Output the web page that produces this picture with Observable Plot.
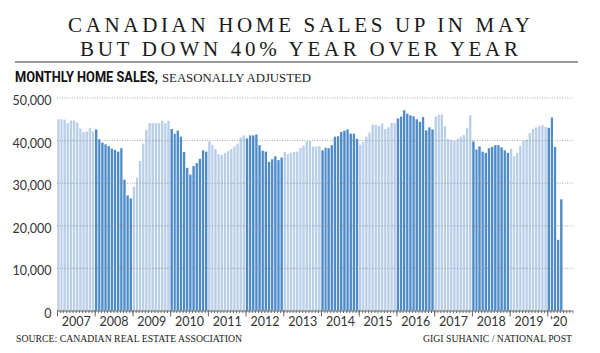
<!DOCTYPE html>
<html>
<head>
<meta charset="utf-8">
<script src="https://cdn.jsdelivr.net/npm/d3@7"></script>
<script src="https://cdn.jsdelivr.net/npm/@observablehq/plot@0.6"></script>
<style>
  html, body { margin: 0; padding: 0; background: #fff; }
  body { width: 600px; height: 353px; overflow: hidden; }
  svg { display: block; }
  #chart { height: 245px; }
</style>
</head>
<body>
<svg id="header" width="600" height="88">
  <text x="299" y="32" text-anchor="middle" font-family="Liberation Serif, serif" font-size="21" textLength="462" lengthAdjust="spacing" fill="#1a1a1a">CANADIAN HOME SALES UP IN MAY</text>
  <text x="299" y="55.5" text-anchor="middle" font-family="Liberation Serif, serif" font-size="21" textLength="438" lengthAdjust="spacing" fill="#1a1a1a">BUT DOWN 40% YEAR OVER YEAR</text>
  <rect x="15" y="61" width="563" height="2" fill="#9a9a9a"></rect>
  <text x="15" y="82" font-family="Roboto, sans-serif" font-weight="bold" font-size="14" textLength="143" lengthAdjust="spacingAndGlyphs" fill="#111">MONTHLY HOME SALES,</text>
  <text x="162" y="82" font-family="Liberation Serif, serif" font-size="11.5" textLength="149" lengthAdjust="spacingAndGlyphs" fill="#222">SEASONALLY ADJUSTED</text>
</svg>
<div id="chart"></div>
<svg id="footer" width="600" height="20">
  <text x="16" y="9" font-family="Liberation Serif, serif" font-size="10.5" textLength="226" lengthAdjust="spacingAndGlyphs" fill="#1a1a1a">SOURCE: CANADIAN REAL ESTATE ASSOCIATION</text>
  <text x="572" y="9" text-anchor="end" font-family="Liberation Serif, serif" font-size="10.5" textLength="149" lengthAdjust="spacingAndGlyphs" fill="#1a1a1a">GIGI SUHANIC / NATIONAL POST</text>
</svg>
<script>
// Monthly home sales, seasonally adjusted (one array per year)
const s2007 = [44900, 44900, 44800, 44000, 44600, 44600, 44100, 42700, 41900, 42000, 42900, 42000];
const s2008 = [42500, 40200, 39400, 39000, 38600, 38000, 37700, 37300, 38100, 30700, 27000, 26300];
const s2009 = [29000, 31200, 35100, 39200, 42400, 44000, 44000, 44000, 44000, 44500, 44000, 44500];
const s2010 = [42600, 41500, 42200, 40800, 37200, 33500, 31900, 33900, 34600, 35600, 37600, 37300];
const s2011 = [39700, 38900, 37900, 36700, 36500, 37000, 37400, 37900, 38500, 39200, 40600, 41100];
const s2012 = [40400, 41100, 41100, 41300, 38800, 37500, 37300, 34900, 35500, 36200, 35300, 35900];
const s2013 = [37200, 36700, 37000, 37200, 37300, 38200, 38700, 39700, 39800, 38500, 38500, 38600];
const s2014 = [37600, 38200, 38100, 38800, 40800, 40900, 41900, 42200, 42500, 41500, 41500, 40300];
const s2015 = [38900, 39600, 40800, 41800, 43600, 43600, 43300, 43900, 42600, 43000, 44100, 44000];
const s2016 = [45100, 45500, 47000, 46200, 45800, 45600, 44900, 44300, 45400, 42300, 43000, 42500];
const s2017 = [45500, 46000, 46000, 43300, 40300, 40000, 39800, 40300, 40800, 41200, 42800, 45800];
const s2018 = [39700, 37800, 38500, 37300, 37000, 38100, 38400, 38800, 38800, 38300, 37600, 37000];
const s2019 = [38000, 36200, 37000, 38700, 39800, 40100, 41600, 42600, 43000, 43300, 43500, 43100];
const s2020 = [42900, 45300, 38400, 16600, 26100];

const years = [2007, 2008, 2009, 2010, 2011, 2012, 2013, 2014, 2015, 2016, 2017, 2018, 2019, 2020];
const series = [s2007, s2008, s2009, s2010, s2011, s2012, s2013, s2014, s2015, s2016, s2017, s2018, s2019, s2020];
const yearLabels = ["2007", "2008", "2009", "2010", "2011", "2012", "2013", "2014", "2015", "2016", "2017", "2018", "2019", "'20"];
const yTicks = [0, 10000, 20000, 30000, 40000, 50000];

const LIGHT = "#b9cfe9";
const DARK = "#4e8bc8";

const data = [];
years.forEach((yr, i) => {
  series[i].forEach((v, m) => {
    data.push({
      start: new Date(Date.UTC(yr, m, 1)),
      end: new Date(Date.UTC(yr, m + 1, 1)),
      value: v,
      color: i % 2 === 1 ? DARK : LIGHT
    });
  });
});

const xStart = new Date(Date.UTC(2007, 0, 1));
const xEnd = new Date(Date.UTC(2020, 8, 1));
const monthTicks = d3.utcMonth.range(xStart, new Date(Date.UTC(2020, 8, 2)));
const yearTicks = d3.utcYear.range(xStart, xEnd);
const labelData = years.map((yr, i) => {
  const a = new Date(Date.UTC(yr, 0, 1));
  const b = yr === 2020 ? new Date(Date.UTC(2020, 7, 1)) : new Date(Date.UTC(yr + 1, 0, 1));
  return {mid: new Date((+a + +b) / 2), label: yearLabels[i]};
});

const chart = Plot.plot({
  width: 600,
  height: 245,
  marginLeft: 57,
  marginRight: 27.5,
  marginTop: 9.5,
  marginBottom: 22.5,
  style: {fontFamily: "Lato, Roboto, sans-serif", fontSize: "12px", color: "#333", background: "#fff"},
  x: {type: "utc", domain: [xStart, xEnd], axis: null},
  y: {domain: [0, 50000], axis: null},
  marks: [
    Plot.rectY(data, {x1: "start", x2: "end", y: "value", fill: "color", insetLeft: 0.3, insetRight: 0.5}),
    Plot.ruleY(yTicks.filter(d => d > 0), {stroke: "#8a8a8a", strokeDasharray: "1 1.5", strokeOpacity: 0.75}),
    Plot.ruleY([0], {stroke: "#666"}),
    Plot.axisX(monthTicks, {tickSize: 2.5, tickFormat: () => "", stroke: "#666"}),
    Plot.axisX(yearTicks, {tickSize: 6, tickFormat: () => "", stroke: "#666"}),
    Plot.text(labelData, {x: "mid", y: () => 0, text: "label", dy: 11, fontSize: 12.5, fill: "#333"}),
    Plot.text(yTicks, {y: d => d, text: d3.format(","), frameAnchor: "left", textAnchor: "end", dx: -6, dy: 3, fontSize: 12.5, fill: "#333"})
  ]
});
document.getElementById("chart").appendChild(chart);
</script>
</body>
</html>
